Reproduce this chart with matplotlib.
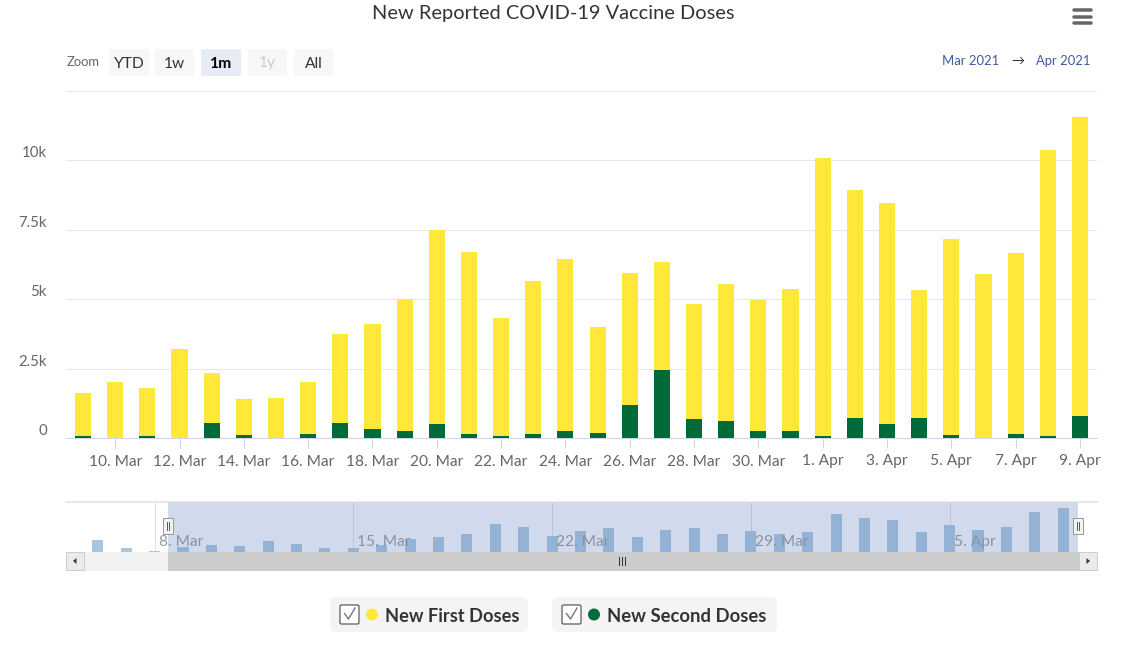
import matplotlib
matplotlib.use("Agg")
import matplotlib.pyplot as plt
import matplotlib.dates as mdates
from matplotlib.patches import FancyBboxPatch, Rectangle, Circle, Polygon
import numpy as np
import pandas as pd

plt.rcParams['font.family'] = ['Lato', 'DejaVu Sans']

# ---------------- data ----------------
dates = pd.date_range('2021-03-09', '2021-04-09', freq='D')
first_doses = [1560, 2000, 1740, 3190, 1800, 1280, 1450, 1840, 3180, 3750, 4750,
               6980, 6550, 4250, 5480, 6190, 3820, 4750, 3910, 4140, 4930, 4730,
               5100, 10010, 8190, 7960, 4590, 7050, 5900, 6500, 10290, 10790]
second_doses = [70, 0, 70, 0, 550, 110, 0, 160, 550, 340, 250,
                500, 160, 70, 160, 250, 190, 1190, 2440, 670, 600, 250,
                250, 70, 730, 500, 730, 110, 0, 160, 70, 780]
# navigator shows earlier days too (total doses)
early_dates = pd.date_range('2021-03-06', '2021-03-08', freq='D')
early_totals = [3300, 1450, 500]

series_names = ['New First Doses', 'New Second Doses']
yellow = '#FFE83A'
green = '#006B38'

yticks = [0, 2500, 5000, 7500, 10000, 12500]
ytick_labels = ['0', '2.5k', '5k', '7.5k', '10k', '']
nav_ticks = pd.to_datetime(['2021-03-08', '2021-03-15', '2021-03-22', '2021-03-29', '2021-04-05'])

W, H = 1132, 664
DPI = 100
def px(v):
    return v * 72.0 / DPI

fig = plt.figure(figsize=(W / DPI, H / DPI), dpi=DPI)
fig.patch.set_facecolor('white')

# ---------------- main chart ----------------
ax = fig.add_axes([66 / W, 1 - 438 / H, (1097 - 66) / W, (438 - 91) / H])
x = mdates.date2num(dates)
first = np.array(first_doses)
second = np.array(second_doses)
ax.bar(x, second, width=0.5, color=green, linewidth=0, zorder=3)
ax.bar(x, first, width=0.5, bottom=second, color=yellow, linewidth=0, zorder=3)
ax.set_xlim(x[0] - 0.53, x[-1] + 0.53)
ax.set_ylim(0, 12500)
ax.set_yticks(yticks)
ax.set_yticklabels(ytick_labels)
ax.grid(axis='y', color='#e6e6e6', linewidth=px(1))
ax.set_axisbelow(True)
for s in ['top', 'right', 'left']:
    ax.spines[s].set_visible(False)
ax.spines['bottom'].set_color('#ccd6eb')
ax.spines['bottom'].set_linewidth(px(1))
ax.spines['bottom'].set_zorder(4)
tick_dates = dates[1::2]
ax.set_xticks(mdates.date2num(tick_dates))
ax.set_xticklabels([f"{d.day}. {d:%b}" for d in tick_dates])
ax.tick_params(axis='x', length=px(10), width=px(1), color='#ccd6eb',
               pad=px(6.5), labelsize=px(15.5), labelcolor='#666666')
ax.tick_params(axis='y', length=0, pad=px(19), labelsize=px(15), labelcolor='#666666')
for lbl in ax.get_yticklabels():
    lbl.set_va('bottom')
ax.patch.set_alpha(0)

# ---------------- navigator ----------------
nav = fig.add_axes([66 / W, 1 - 552 / H, (1097 - 66) / W, 50 / H])
nav_x = np.concatenate([mdates.date2num(early_dates), x])
nav_vals = np.concatenate([np.array(early_totals), first + second])
nav.bar(nav_x, nav_vals, width=0.39, color='#a9c6dc', linewidth=0, zorder=2)
m8 = mdates.date2num(pd.Timestamp('2021-03-08'))
nav.set_xlim(m8 - 3.12, m8 + 33.19)
nav.set_ylim(330, 13000)
nav.set_xticks(mdates.date2num(nav_ticks))
nav.set_xticklabels([])
nav.tick_params(length=0)
nav.set_yticks([])
nav.grid(axis='x', color='#e0e0e0', linewidth=px(1))
nav.set_axisbelow(True)
for s in nav.spines.values():
    s.set_visible(False)
for d in nav_ticks:
    nav.annotate(f"{d.day}. {d:%b}", xy=(mdates.date2num(d), 0), xycoords=('data', 'axes fraction'),
                 xytext=(px(4), px(10)), textcoords='offset points', ha='left', va='center',
                 fontsize=px(15.5), color='#999999', zorder=3)
sel_lo, sel_hi = ax.get_xlim()
nav.axvspan(sel_lo, sel_hi, color=(102 / 255, 133 / 255, 194 / 255), alpha=0.3, linewidth=0, zorder=4)

# ---------------- overlay (pixel coords) ----------------
ov = fig.add_axes([0, 0, 1, 1], zorder=10)
ov.set_xlim(0, W)
ov.set_ylim(H, 0)
ov.axis('off')
ov.patch.set_alpha(0)

renderer = fig.canvas.get_renderer()
def fit(t, width):
    bb = t.get_window_extent(renderer)
    t.set_fontsize(t.get_fontsize() * width / bb.width)

# title
t = ov.text(553, 14, 'New Reported COVID-19 Vaccine Doses', ha='center', va='center',
            fontsize=px(19), color='#333333')
fit(t, 362)

# menu icon
for yy in (10, 16.5, 23):
    ov.plot([1074, 1091], [yy, yy], color='#666666', lw=px(3.5), solid_capstyle='round')

# zoom buttons
ov.text(67, 62.5, 'Zoom', ha='left', va='center', fontsize=px(13), color='#666666')
buttons = [('YTD', 109, 149, '#f7f7f7', '#333333', 'normal'),
           ('1w', 155, 194, '#f7f7f7', '#333333', 'normal'),
           ('1m', 201, 241, '#e6ebf5', '#000000', 'bold'),
           ('1y', 248, 287, '#f7f7f7', '#cccccc', 'normal'),
           ('All', 294, 333, '#f7f7f7', '#333333', 'normal')]
for lab, x0, x1, fc, tc, fw in buttons:
    ov.add_patch(FancyBboxPatch((x0, 49), x1 - x0, 27, boxstyle='round,pad=0,rounding_size=2',
                                fc=fc, ec='none'))
    ov.text((x0 + x1) / 2, 63.5, lab, ha='center', va='center', fontsize=px(15.5), color=tc, fontweight=fw)

# date range
c = '#3d5a9c'
ov.text(999, 61, 'Mar 2021', ha='right', va='center', fontsize=px(13), color=c)
ov.text(1018, 61, '\u2192', ha='center', va='center', fontsize=px(13), color='#333333')
ov.text(1091, 61, 'Apr 2021', ha='right', va='center', fontsize=px(13), color=c)

# navigator outline top line
ov.plot([66, 1097], [502, 502], color='#e0e0e0', lw=px(1.5))

# navigator handles
for hx in (168, 1078):
    ov.add_patch(Rectangle((hx - 5, 518), 10, 16, fc='#f2f2f2', ec='#999999', lw=px(1)))
    for lx in (hx - 1.3, hx + 1.3):
        ov.plot([lx, lx], [522, 530], color='#333333', lw=px(0.8))

# scrollbar
ov.add_patch(Rectangle((66, 552), 1031, 18, fc='#f2f2f2', ec='#f2f2f2', lw=px(1)))
ov.add_patch(Rectangle((168, 552), 910, 18, fc='#cccccc', ec='#cccccc', lw=px(1)))
for gx in (619, 622, 625):
    ov.plot([gx, gx], [557, 565], color='#333333', lw=px(1))
for bx, direction in ((66, -1), (1079, 1)):
    ov.add_patch(Rectangle((bx, 552), 18, 18, fc='#ebebeb', ec='#cccccc', lw=px(1)))
    cx = bx + 9
    ov.add_patch(Polygon([[cx + 2 * direction, 561], [cx - 1.5 * direction, 558], [cx - 1.5 * direction, 564]],
                         closed=True, fc='#333333', ec='none'))

# legend
legend_items = [(series_names[0], yellow, 330, 528, 134),
                (series_names[1], green, 552, 777, 159)]
for name, col, x0, x1, tw in legend_items:
    ov.add_patch(FancyBboxPatch((x0, 597), x1 - x0, 35, boxstyle='round,pad=0,rounding_size=6',
                                fc='#f4f4f4', ec='none'))
    cbx = x0 + 10
    ov.add_patch(FancyBboxPatch((cbx, 605), 19, 19, boxstyle='round,pad=0,rounding_size=1.5',
                                fc='white', ec='#555555', lw=px(1.2)))
    ov.plot([cbx + 4.5, cbx + 8.5, cbx + 15], [613.5, 619, 608], color='#777777', lw=px(1.4))
    ov.add_patch(Circle((x0 + 42, 614.5), 6, fc=col, ec='none'))
    t = ov.text(x0 + 55, 616, name, ha='left', va='center', fontsize=px(17), color='#333333',
                fontweight='bold')
    fit(t, tw)

fig.savefig('out.png', dpi=DPI, facecolor='white')
